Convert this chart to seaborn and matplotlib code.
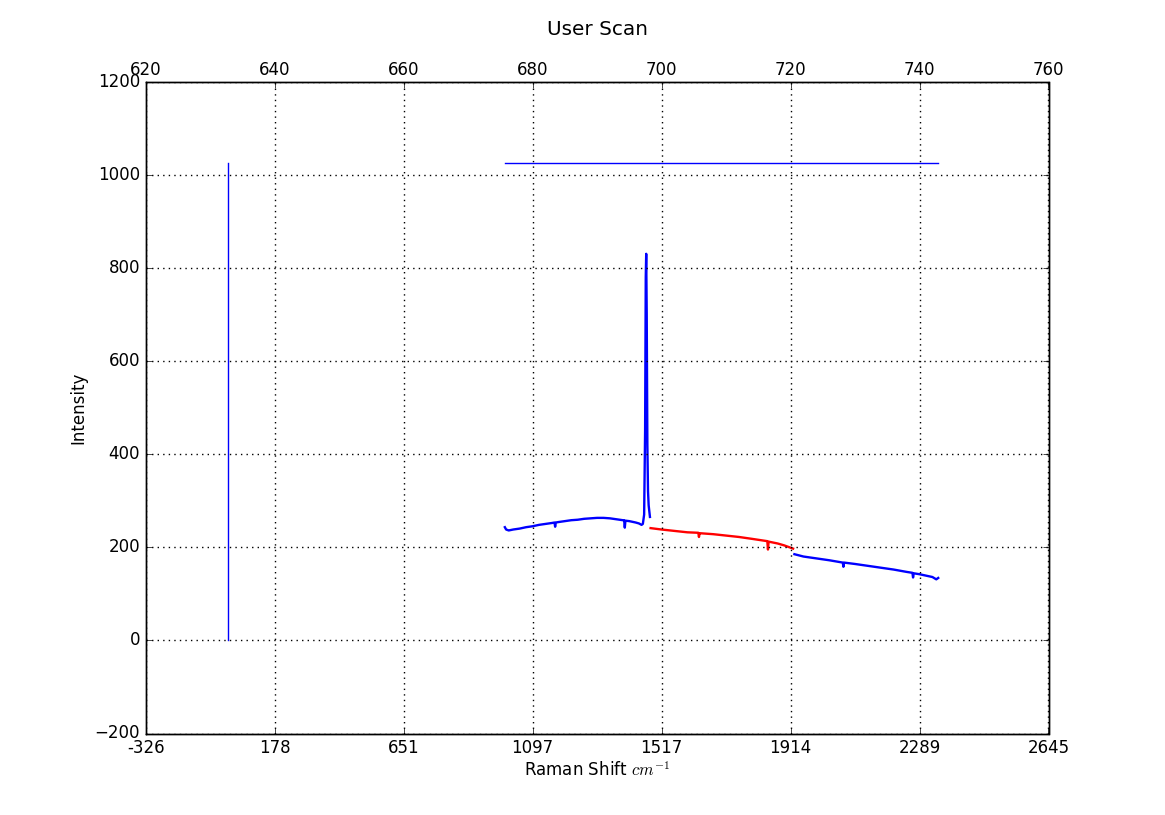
import matplotlib
matplotlib.use("Agg")
import matplotlib.pyplot as plt
import seaborn as sns

# ---- data (wavelength in nm, intensity) ----
laser_wl = [632.8, 632.8]
laser_int = [0, 1025]

range_wl = [675.7, 742.9]
range_int = [1025, 1025]

seg1_wl = [675.7, 675.9, 676.3, 677.0, 678.0, 679.0, 680.0, 681.0, 682.0, 683.0,
           683.4, 683.5, 683.6, 684.0, 685.0, 686.0, 687.0, 688.0, 689.0, 690.0,
           691.0, 692.0, 693.0, 694.0, 694.2, 694.3, 694.4, 695.0, 696.0, 696.5,
           696.9, 697.1, 697.3, 697.45, 697.55, 697.62, 697.7, 697.8, 697.9, 698.0,
           698.2]
seg1_int = [243, 238, 236, 238, 240, 243, 245, 248, 250, 252,
            253, 244, 253, 254, 256, 258, 259, 261, 262, 263,
            263, 262, 260, 258, 258, 242, 257, 256, 253, 251,
            248, 250, 270, 450, 780, 830, 700, 420, 320, 290,
            265]

seg2_wl = [698.3, 700.0, 702.0, 704.0, 705.7, 705.8, 705.9, 706.0, 708.0, 710.0,
           712.0, 714.0, 716.4, 716.5, 716.6, 718.0, 719.0, 720.4]
seg2_int = [241, 238, 235, 232, 231, 222, 230, 230, 228, 225,
            222, 218, 213, 195, 212, 208, 204, 197]

seg3_wl = [720.6, 722.0, 724.0, 726.0, 728.1, 728.2, 728.3, 730.0, 732.0, 734.0,
           736.0, 738.0, 738.9, 739.0, 739.1, 740.0, 742.0, 742.6, 742.9]
seg3_int = [185, 180, 176, 172, 167, 158, 167, 164, 160, 156,
            152, 147, 145, 135, 144, 142, 136, 131, 134]

top_ticks = [620, 640, 660, 680, 700, 720, 740, 760]
bottom_labels = ["-326", "178", "651", "1097", "1517", "1914", "2289", "2645"]

# ---- plot ----
plt.style.use("classic")
fig = plt.figure(figsize=(11.65, 8.15), dpi=100, facecolor="white")
ax = fig.add_axes([0.125, 0.1, 0.775, 0.8])

sns.lineplot(x=laser_wl, y=laser_int, ax=ax, color="b", lw=1.0, sort=False, estimator=None)
sns.lineplot(x=range_wl, y=range_int, ax=ax, color="b", lw=1.0, sort=False, estimator=None)
sns.lineplot(x=seg1_wl, y=seg1_int, ax=ax, color="b", lw=1.7, sort=False, estimator=None)
sns.lineplot(x=seg2_wl, y=seg2_int, ax=ax, color="r", lw=1.7, sort=False, estimator=None)
sns.lineplot(x=seg3_wl, y=seg3_int, ax=ax, color="b", lw=1.7, sort=False, estimator=None)

ax.set_xlim(620, 760)
ax.set_ylim(-200, 1200)
ax.set_xticks(top_ticks)
ax.set_xticklabels(bottom_labels)
ax.set_yticks(range(-200, 1201, 200))
ax.grid(True, color="black", linestyle=":", linewidth=1.0)
ax.set_xlabel(r"Raman Shift $cm^{-1}$", labelpad=3)
ax.set_ylabel("Intensity")

ax2 = ax.twiny()
ax2.set_xlim(620, 760)
ax2.set_xticks(top_ticks)
ax2.set_xticklabels([str(t) for t in top_ticks])
ax2.tick_params(axis="x", pad=1.8)

ax.set_title("User Scan", y=1.061)

fig.savefig("out.png", dpi=100, facecolor="white")
